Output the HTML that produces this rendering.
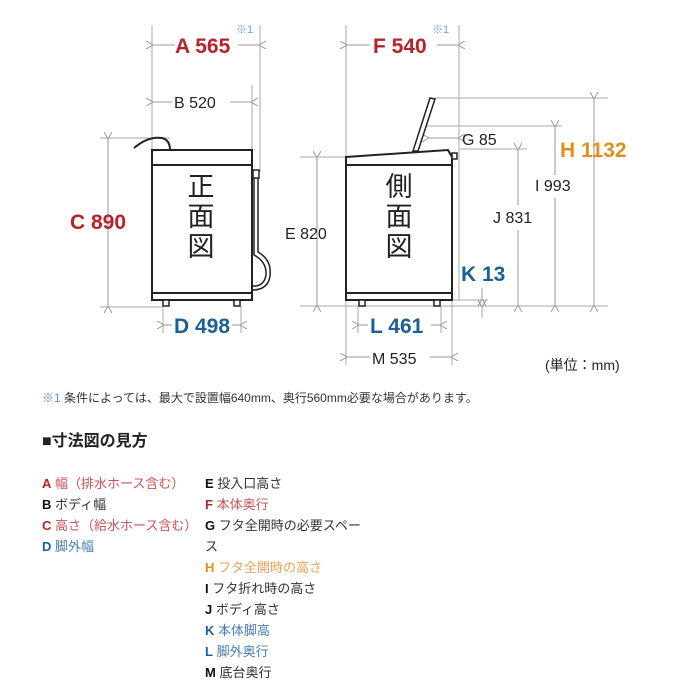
<!DOCTYPE html>
<html><head><meta charset="utf-8"><style>
body{margin:0;background:#fff;width:700px;height:700px;overflow:hidden}
svg{display:block}
.f{font-family:"Liberation Sans","Noto Sans CJK JP",sans-serif}
</style></head><body>
<svg width="700" height="700" viewBox="0 0 700 700" class="f">
<defs>
<marker id="a" markerWidth="8" markerHeight="8" refX="0" refY="4" orient="auto-start-reverse" markerUnits="userSpaceOnUse"><path d="M7,0 L0,4 L7,8" fill="none" stroke="#999" stroke-width="1"/></marker>
</defs>
<g stroke="#aaa" stroke-width="1" fill="none">
<!-- front ext -->
<line x1="152" y1="25" x2="152" y2="150"/><line x1="260" y1="25" x2="260" y2="172"/>
<line x1="252" y1="85" x2="252" y2="150"/>
<line x1="100" y1="138" x2="170" y2="138"/><line x1="100" y1="307" x2="162" y2="307"/>
<line x1="163" y1="306" x2="163" y2="333"/><line x1="241" y1="306" x2="241" y2="333"/>
<!-- side ext -->
<line x1="346" y1="25" x2="346" y2="365"/><line x1="459" y1="25" x2="459" y2="300"/>
<line x1="452" y1="300" x2="452" y2="365"/>
<line x1="300" y1="306" x2="608" y2="306"/><line x1="300" y1="157" x2="346" y2="157"/>
<line x1="435" y1="98" x2="608" y2="98"/><line x1="425" y1="126" x2="562" y2="126"/>
<line x1="460" y1="149" x2="527" y2="149"/><line x1="452" y1="300" x2="488" y2="300"/>
<line x1="358" y1="306" x2="358" y2="333"/><line x1="441" y1="306" x2="441" y2="333"/>
<line x1="482" y1="306" x2="482" y2="318"/>
</g>
<g stroke="#999" stroke-width="1" fill="none">
<line x1="153" y1="45" x2="175" y2="45" marker-start="url(#a)"/><line x1="238" y1="45" x2="259" y2="45" marker-end="url(#a)"/>
<line x1="153" y1="102" x2="172" y2="102" marker-start="url(#a)"/><line x1="230" y1="102" x2="251" y2="102" marker-end="url(#a)"/>
<line x1="108" y1="139" x2="108" y2="306" marker-start="url(#a)" marker-end="url(#a)"/>
<line x1="164" y1="325" x2="172" y2="325" marker-start="url(#a)"/><line x1="232" y1="325" x2="240" y2="325" marker-end="url(#a)"/>
<line x1="347" y1="45" x2="370" y2="45" marker-start="url(#a)"/><line x1="437" y1="45" x2="458" y2="45" marker-end="url(#a)"/>
<line x1="317" y1="158" x2="317" y2="305" marker-start="url(#a)" marker-end="url(#a)"/>
<line x1="429" y1="138" x2="458" y2="138" marker-start="url(#a)" marker-end="url(#a)"/>
<line x1="594" y1="99" x2="594" y2="305" marker-start="url(#a)" marker-end="url(#a)"/>
<line x1="555" y1="127" x2="555" y2="175" marker-start="url(#a)"/><line x1="555" y1="198" x2="555" y2="305" marker-end="url(#a)"/>
<line x1="518" y1="150" x2="518" y2="205" marker-start="url(#a)"/><line x1="518" y1="230" x2="518" y2="305" marker-end="url(#a)"/>
<line x1="482" y1="288" x2="482" y2="299" marker-end="url(#a)"/><line x1="482" y1="307" x2="482" y2="315" marker-start="url(#a)"/>
<line x1="359" y1="325" x2="368" y2="325" marker-start="url(#a)"/><line x1="431" y1="325" x2="440" y2="325" marker-end="url(#a)"/>
<line x1="347" y1="357" x2="370" y2="357" marker-start="url(#a)"/><line x1="430" y1="357" x2="451" y2="357" marker-end="url(#a)"/>
</g>
<!-- front machine -->
<g stroke="#222" stroke-width="2" fill="#fff">
<path d="M134,148 Q148,136 162,138 Q170,140 170,150" fill="none"/>
<rect x="152" y="150" width="100" height="150"/>
<line x1="152" y1="165" x2="252" y2="165"/><line x1="152" y1="293" x2="252" y2="293"/>
<rect x="163" y="300" width="6" height="6" stroke-width="1.5"/><rect x="234" y="300" width="6" height="6" stroke-width="1.5"/>
<rect x="253" y="170" width="6" height="8" stroke-width="1.5"/>
<path d="M254,178 L254,255 Q267,262 266,275 Q264,287 252,286" fill="none" stroke-width="1.5"/>
<path d="M258,178 L258,252 Q272,260 270,276 Q268,290 252,290" fill="none" stroke-width="1.5"/>
</g>
<!-- side machine -->
<g stroke="#222" stroke-width="2" fill="#fff">
<path d="M413,151 L430,98 L435,99 L418,151 Z" stroke-width="1.5"/>
<path d="M346,157 L448,150 L452,157 L452,300 L346,300 Z"/>
<line x1="346" y1="165" x2="452" y2="165"/><line x1="346" y1="293" x2="452" y2="293"/>
<rect x="452" y="153" width="5" height="6" stroke-width="1.5"/>
<rect x="359" y="300" width="6" height="6" stroke-width="1.5"/><rect x="434" y="300" width="6" height="6" stroke-width="1.5"/>
</g>
<g font-weight="bold" font-size="21">
<text x="175" y="53" fill="#b8232b">A 565</text>
<text x="70" y="229" fill="#b8232b">C 890</text>
<text x="174" y="333" fill="#1d5f97">D 498</text>
<text x="373" y="53" fill="#b8232b">F 540</text>
<text x="560" y="157" fill="#e0901e">H 1132</text>
<text x="461" y="281" fill="#1d5f97">K 13</text>
<text x="370" y="333" fill="#1d5f97">L 461</text>
</g>
<g font-size="16" fill="#222">
<text x="174" y="108">B 520</text>
<text x="285" y="239">E 820</text>
<text x="462" y="145">G 85</text>
<text x="535" y="191">I 993</text>
<text x="493" y="223">J 831</text>
<text x="372" y="364">M 535</text>
<text x="545" y="370" font-size="14">(単位：mm)</text>
</g>
<g font-size="11" fill="#6aa8d8"><text x="236" y="33">※1</text><text x="432" y="33">※1</text></g>
<g font-size="27" fill="#222" text-anchor="middle">
<text x="201" y="196">正</text><text x="201" y="226">面</text><text x="201" y="256">図</text>
<text x="399" y="196">側</text><text x="399" y="226">面</text><text x="399" y="256">図</text>
</g>
<text x="42" y="402" font-size="12" fill="#333"><tspan fill="#5b8ed0">※1</tspan> 条件によっては、最大で設置幅640mm、奥行560mm必要な場合があります。</text>
<text x="42" y="446" font-size="16" font-weight="bold" fill="#222">■寸法図の見方</text>
<g font-size="13">
<text x="42" y="488" fill="#c8555b"><tspan font-weight="bold" fill="#b8232b">A</tspan> 幅（排水ホース含む）</text>
<text x="42" y="509" fill="#333"><tspan font-weight="bold" fill="#111">B</tspan> ボディ幅</text>
<text x="42" y="530" fill="#c8555b"><tspan font-weight="bold" fill="#b8232b">C</tspan> 高さ（給水ホース含む）</text>
<text x="42" y="551" fill="#4a7fb5"><tspan font-weight="bold" fill="#1d5f97">D</tspan> 脚外幅</text>
<text x="205" y="488" fill="#333"><tspan font-weight="bold" fill="#111">E</tspan> 投入口高さ</text>
<text x="205" y="509" fill="#c8555b"><tspan font-weight="bold" fill="#b8232b">F</tspan> 本体奥行</text>
<text x="205" y="530" fill="#333"><tspan font-weight="bold" fill="#111">G</tspan> フタ全開時の必要スペー</text>
<text x="205" y="551" fill="#333">ス</text>
<text x="205" y="572" fill="#e8a45a"><tspan font-weight="bold" fill="#e0901e">H</tspan> フタ全開時の高さ</text>
<text x="205" y="593" fill="#333"><tspan font-weight="bold" fill="#111">I</tspan> フタ折れ時の高さ</text>
<text x="205" y="614" fill="#333"><tspan font-weight="bold" fill="#111">J</tspan> ボディ高さ</text>
<text x="205" y="635" fill="#4a7fb5"><tspan font-weight="bold" fill="#1d5f97">K</tspan> 本体脚高</text>
<text x="205" y="656" fill="#4a7fb5"><tspan font-weight="bold" fill="#1d5f97">L</tspan> 脚外奥行</text>
<text x="205" y="677" fill="#333"><tspan font-weight="bold" fill="#111">M</tspan> 底台奥行</text>
</g>
</svg>
</body></html>
